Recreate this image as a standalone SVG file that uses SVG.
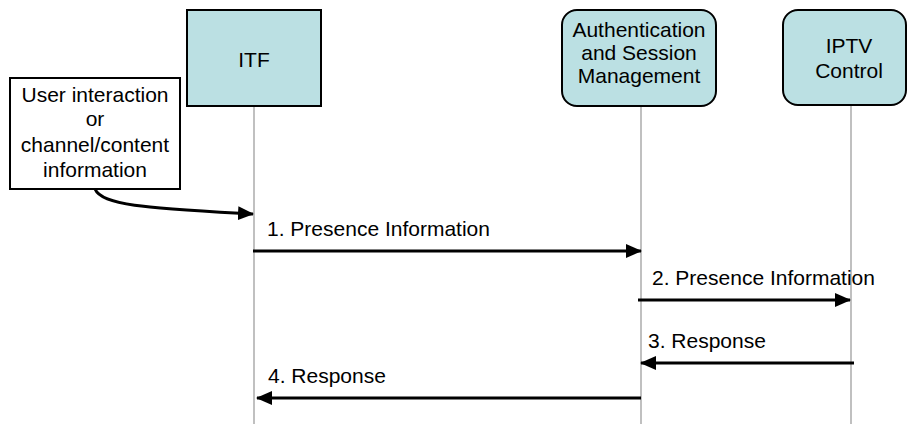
<svg xmlns="http://www.w3.org/2000/svg" width="907" height="424" viewBox="0 0 907 424">
<defs>
<style>
.box{fill:#bbe0e3;stroke:#000;stroke-width:2}
.note{fill:#fff;stroke:#000;stroke-width:2}
.life{stroke:#c0c0c0;stroke-width:2;fill:none}
.msg{stroke:#000;stroke-width:3;fill:none}
text{font-family:"Liberation Sans",Arial,sans-serif;font-size:21px;fill:#000}
.c{text-anchor:middle}
</style>
<marker id="ah" markerWidth="16" markerHeight="14" refX="15" refY="7" orient="auto" markerUnits="userSpaceOnUse">
<path d="M0,0 L16,7 L0,14 Z" fill="#000"/>
</marker>
</defs>
<rect width="907" height="424" fill="#fff"/>
<g id="lifelines">
<line class="life" x1="254" y1="106" x2="254" y2="424"/>
<line class="life" x1="641" y1="106" x2="641" y2="424"/>
<line class="life" x1="851" y1="106" x2="851" y2="424"/>
</g>
<g id="itf">
<rect class="box" x="187" y="10" width="134" height="96"/>
<text class="c" x="254" y="67">ITF</text>
</g>
<g id="asm">
<rect class="box" x="562" y="10" width="154" height="96" rx="15" ry="15"/>
<text class="c" x="639" y="37">Authentication</text>
<text class="c" x="639" y="60">and Session</text>
<text class="c" x="639" y="83">Management</text>
</g>
<g id="iptv">
<rect class="box" x="783" y="10" width="123" height="95" rx="15" ry="15"/>
<text class="c" x="849" y="53">IPTV</text>
<text class="c" x="849" y="78">Control</text>
</g>
<g id="user">
<rect class="note" x="10" y="78" width="170" height="111"/>
<text class="c" x="95" y="102">User interaction</text>
<text class="c" x="95" y="126">or</text>
<text class="c" x="95" y="152">channel/content</text>
<text class="c" x="95" y="177">information</text>
</g>
<g id="connectors">
<path class="msg" d="M95,189 C102,206 150,208 253,214" marker-end="url(#ah)"/>
<line class="msg" x1="253" y1="251" x2="641" y2="251" marker-end="url(#ah)"/>
<line class="msg" x1="638" y1="300" x2="850" y2="300" marker-end="url(#ah)"/>
<line class="msg" x1="854" y1="363" x2="641" y2="363" marker-end="url(#ah)"/>
<line class="msg" x1="641" y1="398" x2="257" y2="398" marker-end="url(#ah)"/>
<text x="267" y="236">1. Presence Information</text>
<text x="652" y="285">2. Presence Information</text>
<text x="648" y="348">3. Response</text>
<text x="268" y="383">4. Response</text>
</g>
</svg>
